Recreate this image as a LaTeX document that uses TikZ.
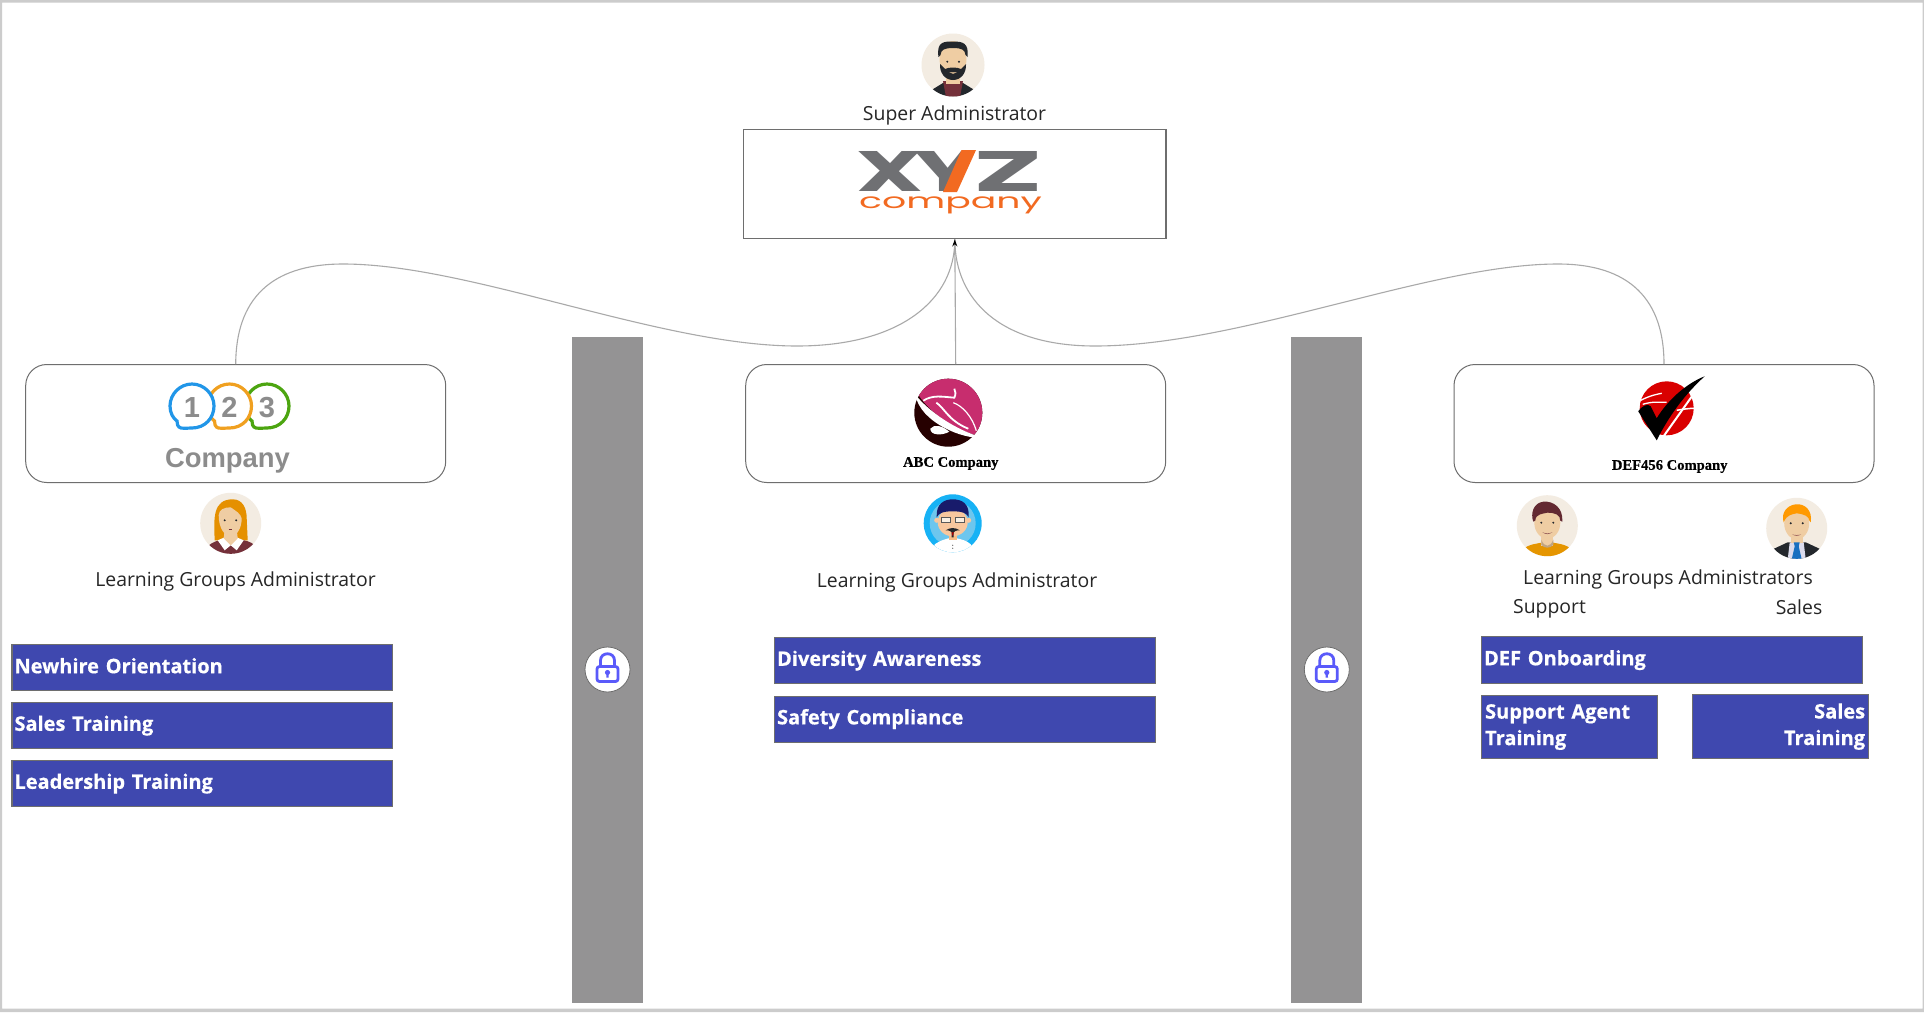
\documentclass[tikz,border=0pt]{standalone}
\usepackage{fontspec}
\setmainfont{Open Sans}
\newfontfamily\arialf{Liberation Sans}
\newfontfamily\timesf[BoldFeatures={FakeBold=0.6}]{Liberation Serif}
\newfontfamily\popf{Poppins}
\newfontfamily\bluef[BoldFeatures={FakeBold=0.5}]{Open Sans}
\definecolor{blueb}{HTML}{3F48AF}
\definecolor{barg}{HTML}{949394}
\definecolor{framec}{HTML}{CCCCCC}
\definecolor{linec}{HTML}{A9A9A9}
\definecolor{edgec}{HTML}{6E6E6E}
\definecolor{txtc}{HTML}{262626}
\definecolor{beige}{HTML}{F3ECE2}
\definecolor{skin}{HTML}{EFCDA3}
\definecolor{darkh}{HTML}{23272C}
\definecolor{maroon}{HTML}{74303A}
\definecolor{xgray}{HTML}{6F7073}
\definecolor{xorange}{HTML}{F26A21}
\definecolor{lockc}{HTML}{5A5AFA}
\definecolor{bub1}{HTML}{2196E8}
\definecolor{bub2}{HTML}{F0A020}
\definecolor{bub3}{HTML}{4CA510}
\definecolor{ring}{HTML}{17B2F5}
\definecolor{ringin}{HTML}{6DC6EE}
\definecolor{skinm}{HTML}{F8C79E}
\usetikzlibrary{arrows.meta}
\tikzset{
  x=1pt,y=-1pt,
  topbox/.style={draw=edgec,line width=1.3pt,fill=white,inner sep=0pt},
  groupbox/.style={draw=edgec,line width=1pt,fill=white,rounded corners=21pt,inner sep=0pt,minimum width=420pt,minimum height=118pt},
  bluebox/.style={draw=edgec,line width=1.2pt,fill=blueb,text=white,inner sep=0pt,anchor=north west,font=\bluef\bfseries\fontsize{20}{26.5}\selectfont},
  barbox/.style={fill=barg,inner sep=0pt,anchor=north west,minimum width=71pt,minimum height=666pt},
  lbl/.style={text=txtc,inner sep=0pt,font=\fontsize{19.4}{24}\selectfont},
  conn/.style={draw=linec,line width=1.1pt},
  tipped/.style={-{Stealth[length=7pt,width=5pt,black]}},
  lockdisc/.style={draw=edgec,line width=.8pt,fill=white,circle,minimum size=45pt,inner sep=0pt},
  logotxt/.style={inner sep=0pt},
  bub/.style={line width=3.2pt,fill=white},
}
\newcommand{\btxt}[2][2]{\raisebox{#1pt}{#2}}
\newcommand{\lockicon}[1]{%
  \begin{scope}[shift={(#1)}]
    \draw[lockc,line width=2.8pt,rounded corners=2.5pt] (-10.5,-3) rectangle (10.5,12);
    \draw[lockc,line width=2.8pt] (-7,-3) -- (-7,-9) .. controls (-7,-18) and (7,-18) .. (7,-9) -- (7,-3);
    \fill[lockc] (0,3) circle (2.6pt);
    \fill[lockc] (-1,3) -- (1,3) -- (1.2,8) -- (-1.2,8) -- cycle;
  \end{scope}}
\newcommand{\bubble}[3]{%
  \begin{scope}[shift={(#2,406)}]
  \draw[#1,bub] (-13,21) .. controls (-12,23) and (-4,22) .. (0,22)
     .. controls (13,22) and (22,12) .. (22,0) .. controls (22,-12) and (12,-22) .. (0,-22)
     .. controls (-12,-22) and (-22,-12) .. (-22,0) .. controls (-22,7) and (-19,12) .. (-15,15)
     .. controls (-14,18) and (-15,21) .. (-13,21) -- cycle;
  \end{scope}
  \node[logotxt,text=gray!90,font=\arialf\bfseries\fontsize{29}{30}\selectfont] at (#2,407.5) {#3};}
\begin{document}
\begin{tikzpicture}
\useasboundingbox (0,0) rectangle (1924,1012);
\fill[white] (0,0) rectangle (1924,1012);
% frame
\fill[framec,even odd rule] (0,0) rectangle (1924,1012) (2,2.5) rectangle (1922.5,1008.5);

% bars
\node[barbox] (barL) at (571.5,337) {};
\node[barbox] (barR) at (1291,337) {};
\node[lockdisc] (lockL) at (607.5,669.5) {};
\node[lockdisc] (lockR) at (1326.8,669.5) {};
\lockicon{607.5,669.5}
\lockicon{1326.8,669.5}

% top box
\node[topbox,minimum width=422.5pt,minimum height=109.5pt] (top) at (954.8,184) {};
% group boxes
\node[groupbox] (gA) at (235.7,423.5) {};
\node[groupbox] (gB) at (955.7,423.5) {};
\node[groupbox] (gC) at (1664,423.5) {};

% connectors
\draw[conn] (gB.north) -- (top.south);
\draw[conn] (gA.north) .. controls (236,300) and (270,264) .. (343,264)
   .. controls (470,264) and (660,346) .. (797,346)
   .. controls (900,346) and (955,300) .. (top.south);
\draw[conn] (gC.north) .. controls (1664,300) and (1630,264) .. (1558,264)
   .. controls (1430,264) and (1240,346) .. (1095,346)
   .. controls (1000,346) and (955,300) .. (top.south);
\coordinate (tiptail) at (954.8,255);
\draw[conn,tipped] (tiptail) -- (top.south);

% XYZ logo
\node[logotxt,text=xgray] (xyzX) at (890,171) {\popf\bfseries\fontsize{57}{57}\selectfont\scalebox{1.64}[1]{X}};
\begin{scope}
  \clip (900,140) -- (971,140) -- (950,200) -- (900,200) -- cycle;
  \node[logotxt,text=xgray] (xyzY) at (948,171) {\popf\bfseries\fontsize{57}{57}\selectfont\scalebox{1.75}[1]{Y}};
\end{scope}
\fill[xorange] (976,150) -- (961.5,150) -- (943,192) -- (957,192) -- cycle;
\node[logotxt,text=xgray] (xyzZ) at (1008.5,171) {\popf\bfseries\fontsize{57}{57}\selectfont\scalebox{2.05}[1]{Z}};
\node[logotxt,text=xorange] (xyzC) at (950.5,205.5) {\popf\fontsize{21}{21}\selectfont\scalebox{1.8}[1]{company}};

% 123 logo
\bubble{bub3}{267}{3}
\bubble{bub2}{229.5}{2}
\bubble{bub1}{192}{1}
\node[logotxt,text=gray!90,font=\arialf\bfseries\fontsize{27.4}{28}\selectfont] (co123) at (227.5,461) {Company};

% ABC logo
\begin{scope}[shift={(948.3,412.7)}]
  \fill[black!85!red] (0,0) circle (34pt);
  \begin{scope}
    \clip (0,0) circle (34pt);
    \fill[magenta!75!red!80!black] (-40,-24) -- (-30,-18) .. controls (-15,5) and (15,22) .. (40,25) -- (40,-40) -- (-40,-40) -- cycle;
  \end{scope}
  \fill[white] (-33,-18) .. controls (-15,4) and (15,20) .. (35,25) .. controls (15,27) and (-28,10) .. (-33,-18) -- cycle;
  \fill[white] (-18,16) .. controls (-14,11) and (-6,13) .. (1,19) .. controls (-6,23) and (-18,23) .. (-18,16) -- cycle;
  \draw[white,line width=1.8pt] (-25,-12) .. controls (-16,-18) and (-6,-16) .. (6,-15) .. controls (8,-19) and (7,-21) .. (6,-24);
  \draw[white,line width=1.8pt] (-12,-10) .. controls (-4,-5) and (0,8) .. (20,16);
  \draw[white,line width=1.2pt] (5,-10) .. controls (14,-7) and (24,4) .. (28,18);
\end{scope}
\node[logotxt,text=black,font=\timesf\bfseries\fontsize{14.6}{15}\selectfont] (abcT) at (950.8,463.5) {ABC Company};

% DEF logo
\begin{scope}[shift={(1666.7,408.3)}]
  \fill[red!85!black] (0,0) circle (27pt);
  \draw[white,line width=1.3pt] (-26,-8) .. controls (-16,-13) and (-10,-14) .. (-5,-15);
  \draw[white,line width=1.3pt] (-24,-4) .. controls (-14,-7) and (-8,-6) .. (0,-6);
  \draw[white,line width=1.5pt] (10,2) .. controls (16,1) and (22,0) .. (28,0);
  \draw[white,line width=2pt] (-6,32) -- (38,-30);
  \fill[black] (-28.5,3) .. controls (-24,-3) and (-19,-5) .. (-16,-2) -- (-10,10) .. controls (2,-10) and (22,-26) .. (38,-32)
     .. controls (18,-14) and (2,8) .. (-10,32) -- cycle;
\end{scope}
\node[logotxt,text=black,font=\timesf\bfseries\fontsize{14.6}{15}\selectfont] (defT) at (1669.7,466.5) {DEF456 Company};

% avatar: super admin
\begin{scope}[shift={(953,65)}]
  \fill[beige] (0,0) circle (31.5pt);
  \clip (0,0) circle (31.5pt);
  \fill[darkh] (-25,31) -- (-23,26) -- (-10,18) -- (10,18) -- (23,26) -- (25,31) -- cycle;
  \fill[maroon] (-10,16) -- (10,16) -- (7,32) -- (-7,32) -- cycle;
  \fill[skin] (-7,5) rectangle (7,19);
  \fill[skin] (0,-6) ellipse (13.5pt and 18pt);
  \fill[darkh] (-14.5,-8) .. controls (-17,-24) and (-8,-23.5) .. (0,-23.5) .. controls (10,-23.5) and (16,-22) .. (14.5,-8) -- (12.5,-10) .. controls (12,-15) and (9,-17) .. (0,-17) .. controls (-9,-17) and (-12,-15) .. (-12.5,-10) -- cycle;
  \fill[darkh] (-13,-1) -- (-8,4) .. controls (-4,2) and (4,2) .. (8,4) -- (13,-1) .. controls (13.5,8) and (8,15) .. (0,15) .. controls (-8,15) and (-13.5,8) .. (-13,-1) -- cycle;
  \fill[skin!80!black] (-4,7) -- (4,7) -- (0,9) -- cycle;
  \fill[darkh] (-5.7,-3.3) circle (1.1pt) (6,-3.3) circle (1.1pt);
\end{scope}

% avatar: female
\begin{scope}[shift={(230.7,523.3)}]
  \fill[beige] (0,0) circle (30.5pt);
  \clip (0,0) circle (30.5pt);
  \fill[orange!75!yellow!90!black] (-16,17) .. controls (-17,-5) and (-18,-24) .. (2,-24) .. controls (12,-24) and (16,-15) .. (16,-5) -- (17,17) -- cycle;
  \fill[maroon] (-24,24) .. controls (-18,18) and (-12,17) .. (-8,16) -- (8,16) .. controls (14,17) and (20,18) .. (24,22) -- (24,32) -- (-24,32) -- cycle;
  \fill[white] (-13,17) -- (-6,14) -- (6,14) -- (13,17) -- (6,27) -- (0,22) -- (-6,27) -- cycle;
  \fill[skin] (-6,6) -- (6,6) -- (7,15) -- (0,22) -- (-7,15) -- cycle;
  \fill[skin] (-12,-8) .. controls (-12,-14) and (-6,-16) .. (0,-16) .. controls (4,-13) and (10,-10) .. (11,-5) .. controls (11,5) and (6,13) .. (0,13) .. controls (-6,13) and (-12,5) .. (-12,-8) -- cycle;
  \fill[darkh] (-6,-3) circle (1.1pt) (5.5,-3) circle (1.1pt);
  \draw[maroon,line width=.7pt] (-2,6.5) -- (1,6.5);
\end{scope}

% avatar: middle
\begin{scope}[shift={(952.7,523.3)}]
  \fill[ring] (0,0) circle (29pt);
  \fill[ringin] (0,0) circle (23pt);
  \clip (0,0) circle (29pt);
  \fill[white] (-20,30) -- (-18,21) .. controls (-12,17) and (-8,16) .. (-4,15) -- (4,15) .. controls (8,16) and (14,17) .. (18,21) -- (20,30) -- cycle;
  \fill[skinm!85!orange] (-4,8) rectangle (4,17);
  \fill[skinm] (-16,-3) circle (2.5pt) (16,-3) circle (2.5pt);
  \fill[skinm] (0,-1) ellipse (15pt and 14pt);
  \fill[darkh!70!blue] (-16,-6) .. controls (-17,-20) and (-8,-24) .. (0,-24) .. controls (9,-24) and (17,-20) .. (16,-6) .. controls (14,-10) and (10,-12) .. (0,-12) .. controls (-10,-12) and (-14,-10) .. (-16,-6) -- cycle;
  \draw[gray!70!black,line width=.9pt,fill=white!70!skin] (-11,-5.5) rectangle (-2,-.5) (2.5,-5.5) rectangle (11.5,-.5);
  \fill[darkh] (-7,7) .. controls (-3,4) and (3,4) .. (7,7) .. controls (3,7) and (2,8) .. (1,9) -- (1,14) -- (-1,14) -- (-1,9) .. controls (-2,8) and (-3,7) .. (-7,7) -- cycle;
  \fill[red!70!black] (-1.2,9) -- (1.2,9) -- (0,13) -- cycle;
  \fill[gray!70!black] (0,22) circle (.6pt) (0,25) circle (.6pt);
\end{scope}

% avatar: support
\begin{scope}[shift={(1547.3,525.7)}]
  \fill[beige] (0,0) circle (30.5pt);
  \clip (0,0) circle (30.5pt);
  \fill[orange!70!yellow!90!black] (-25,24) .. controls (-18,18) and (-10,18) .. (-6,17) -- (6,17) .. controls (10,18) and (18,18) .. (25,24) -- (25,32) -- (-25,32) -- cycle;
  \fill[skin] (-6,6) rectangle (6,20);
  \fill[skin] (0,-3) ellipse (13pt and 16pt);
  \fill[skin!80!black] (-6,14) .. controls (-3,22) and (3,22) .. (6,14) -- (6,19) .. controls (3,23) and (-3,23) .. (-6,19) -- cycle;
  \fill[maroon!85!black] (-14,-4) .. controls (-17,-12) and (-14,-23) .. (-4,-24) .. controls (6,-25) and (16,-18) .. (15,-4) -- (13,-5) .. controls (13,-11) and (8,-13) .. (0,-13) .. controls (-4,-12) and (-12,-12) .. (-12,-5) -- cycle;
  \fill[darkh] (-6,-3) circle (1.1pt) (6,-3) circle (1.1pt);
  \fill[maroon!70!skin] (-5,6.5) .. controls (-2,9) and (2,9) .. (5,6.5) .. controls (2,8) and (-2,8) .. (-5,6.5) -- cycle;
\end{scope}

% avatar: sales
\begin{scope}[shift={(1796.7,528.3)}]
  \fill[beige] (0,0) circle (30.5pt);
  \clip (0,0) circle (30.5pt);
  \fill[darkh] (-24,21) -- (-9,14) -- (9,14) -- (24,21) -- (24,32) -- (-24,32) -- cycle;
  \fill[blue!8!white!85!gray] (-7,14) -- (7,14) -- (9,31) -- (-9,31) -- cycle;
  \fill[skin] (-6,4) rectangle (6,15);
  \fill[skin] (0,-5) ellipse (12.5pt and 16pt);
  \fill[orange!80!yellow] (-13,-6) .. controls (-16,-15) and (-10,-23) .. (-1,-24) .. controls (8,-25) and (16,-18) .. (14,-6) -- (12.5,-8) .. controls (12,-12) and (8,-14) .. (0,-15) .. controls (-4,-14) and (-10,-14) .. (-13,-6) -- cycle;
  \fill[cyan!50!blue] (-3,14) -- (3,14) -- (2,18) -- (5,31) -- (-5,31) -- (-2,18) -- cycle;
  \fill[darkh] (-6,-5) circle (1.1pt) (6,-5) circle (1.1pt);
  \fill[maroon!70!skin] (-4.5,6) .. controls (-2,8) and (2,8) .. (4.5,6) .. controls (2,7) and (-2,7) .. (-4.5,6) -- cycle;
\end{scope}

% labels
\node[lbl] (superL) at (954.5,115.4) {Super Administrator};
\node[lbl] (lgaA) at (235.5,581) {Learning Groups Administrator};
\node[lbl] (lgaB) at (957,582) {Learning Groups Administrator};
\node[lbl] (lgaC) at (1668,579) {Learning Groups Administrators};
\node[lbl] (supL) at (1549.5,608.5) {Support};
\node[lbl] (salL) at (1799,607) {Sales};

% blue boxes
\tikzset{bw/.style={minimum width=380.5pt,minimum height=46pt,text width=375.5pt,align=left}}
\node[bluebox,bw] (a1) at (11.4,644) {\btxt[4]{Newhire Orientation}};
\node[bluebox,bw] (a2) at (11.4,702) {\btxt{Sales Training}};
\node[bluebox,bw] (a3) at (11.4,760) {\btxt[2]{Leadership Training}};
\node[bluebox,bw] (b1) at (774,637) {\btxt[3]{Diversity Awareness}};
\node[bluebox,bw] (b2) at (774,695.5) {\btxt[3]{Safety Compliance}};
\node[bluebox,bw,minimum height=47pt] (c1) at (1481,636) {\btxt{DEF Onboarding}};
\node[bluebox,minimum width=176pt,minimum height=63.5pt,text width=169pt,align=left] (c2) at (1481,694.7) {Support Agent\\Training};
\node[bluebox,minimum width=175.5pt,minimum height=63.5pt,text width=169.5pt,align=right] (c3) at (1692,694.2) {Sales\\Training};
\end{tikzpicture}
\end{document}
